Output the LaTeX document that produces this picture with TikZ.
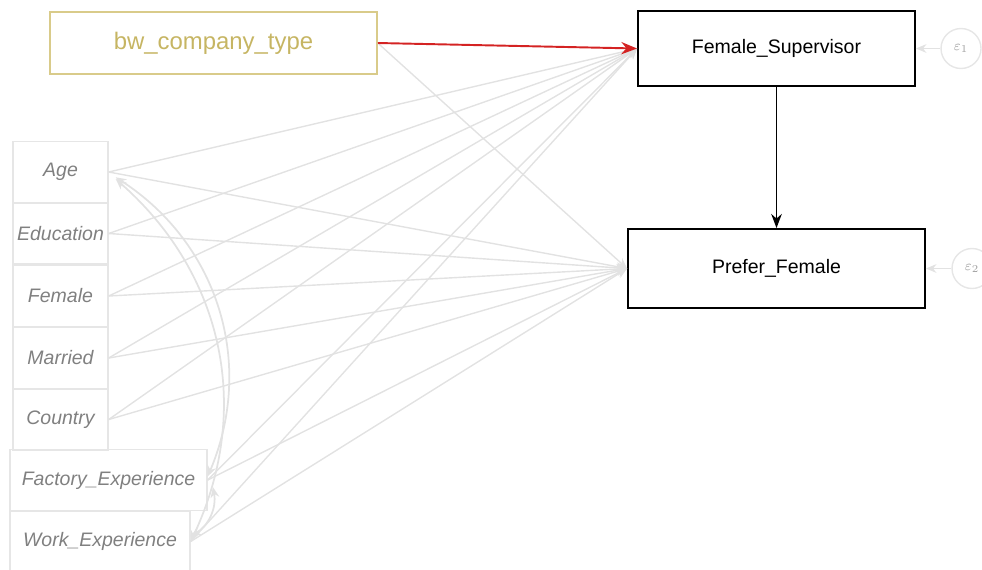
\documentclass[tikz,border=0pt]{standalone}
\usepackage{fontspec}
\setmainfont{Liberation Sans}
\usepackage{tikz}
\usetikzlibrary{positioning, arrows.meta, shapes.geometric}
\usepackage{xcolor}

\definecolor{goldline}{HTML}{D9CB8A}
\definecolor{goldtext}{HTML}{C6B563}
\definecolor{paleline}{HTML}{E2E2E2}
\definecolor{palebox}{HTML}{E6E6E6}
\definecolor{paletext}{HTML}{808080}
\definecolor{pathred}{HTML}{D42323}

\begin{document}
\begin{tikzpicture}[
    x=0.02cm, y=-0.02cm,
    exo/.style={rectangle, draw=palebox, line width=0.8pt, minimum width=1.9cm, minimum height=1.22cm, inner sep=0pt, text=paletext, font=\fontsize{11.1}{13}\selectfont\itshape},
    endo/.style={rectangle, draw=black, line width=1.1pt, inner sep=0pt, font=\fontsize{11.1}{13}\selectfont},
    err/.style={circle, draw=palebox, line width=0.8pt, minimum size=0.8cm, inner sep=0pt, text=palebox!70!black, font=\fontsize{8}{9}\selectfont},
    pathline/.style={->, >={Stealth[length=6pt, width=5pt]}, line width=0.8pt, paleline},
    cov/.style={<->, >={Stealth[length=6pt, width=5pt]}, line width=1pt, paleline}
]
    \useasboundingbox (0,0) rectangle (982,569);

    % observed exogenous variables
    \node[rectangle, draw=goldline, line width=0.9pt, minimum width=6.54cm, minimum height=1.24cm, text=goldtext, font=\fontsize{13.6}{16}\selectfont] (company) at (213.5,43) {bw\_company\_type};
    \node[exo] (age) at (60.5,172) {Age};
    \node[exo] (educ) at (60.5,233.5) {Education};
    \node[exo] (female) at (60.5,296) {Female};
    \node[exo] (married) at (60.5,358) {Married};
    \node[exo] (country) at (60.5,419.5) {Country};
    \node[exo, minimum width=3.94cm] (factory) at (108.5,480) {Factory\_Experience};
    \node[exo, minimum width=3.6cm] (work) at (100,541.5) {Work\_Experience};

    % endogenous variables and their errors
    \node[endo, minimum width=5.54cm, minimum height=1.5cm] (femsup) at (776.5,48.5) {Female\_Supervisor};
    \node[endo, minimum width=5.94cm, minimum height=1.58cm] (prefer) at (776.5,268.5) {Prefer\_Female};
    \node[err] (e1) at (961,48.5) {$\varepsilon_1$};
    \node[err] (e2) at (972,268.5) {$\varepsilon_2$};

    % paths
    \draw[pathline] (age.east) -- (femsup.west);
    \draw[pathline] (age.east) -- (prefer.west);
    \draw[pathline] (educ.east) -- (femsup.west);
    \draw[pathline] (educ.east) -- (prefer.west);
    \draw[pathline] (female.east) -- (femsup.west);
    \draw[pathline] (female.east) -- (prefer.west);
    \draw[pathline] (married.east) -- (femsup.west);
    \draw[pathline] (married.east) -- (prefer.west);
    \draw[pathline] (country.east) -- (femsup.west);
    \draw[pathline] (country.east) -- (prefer.west);
    \draw[pathline] (factory.east) -- (femsup.west);
    \draw[pathline] (factory.east) -- (prefer.west);
    \draw[pathline] (work.east) -- (femsup.west);
    \draw[pathline] (work.east) -- (prefer.west);
    \draw[pathline] (company.east) -- (prefer.west);
    \draw[pathline] (e1) -- (femsup.east);
    \draw[pathline] (e2) -- (prefer.east);

    % covariances
    \draw[cov] ([xshift=4pt, yshift=-3pt]age.east) to[bend left=40] ([yshift=2pt]factory.east);
    \draw[cov] ([xshift=4pt, yshift=-4pt]age.east) to[bend left=37] (work.east);
    \draw[cov] ([xshift=3pt, yshift=-4pt]factory.east) to[bend left=35] ([yshift=3pt]work.east);

    \draw[->, >={Stealth[length=9pt, width=7pt]}, line width=1.1pt, pathred] (company.east) -- (femsup.west);
    \draw[->, >={Stealth[length=8pt, width=6pt]}, line width=1.1pt, black] (femsup.south) -- (prefer.north);
\end{tikzpicture}
\end{document}
